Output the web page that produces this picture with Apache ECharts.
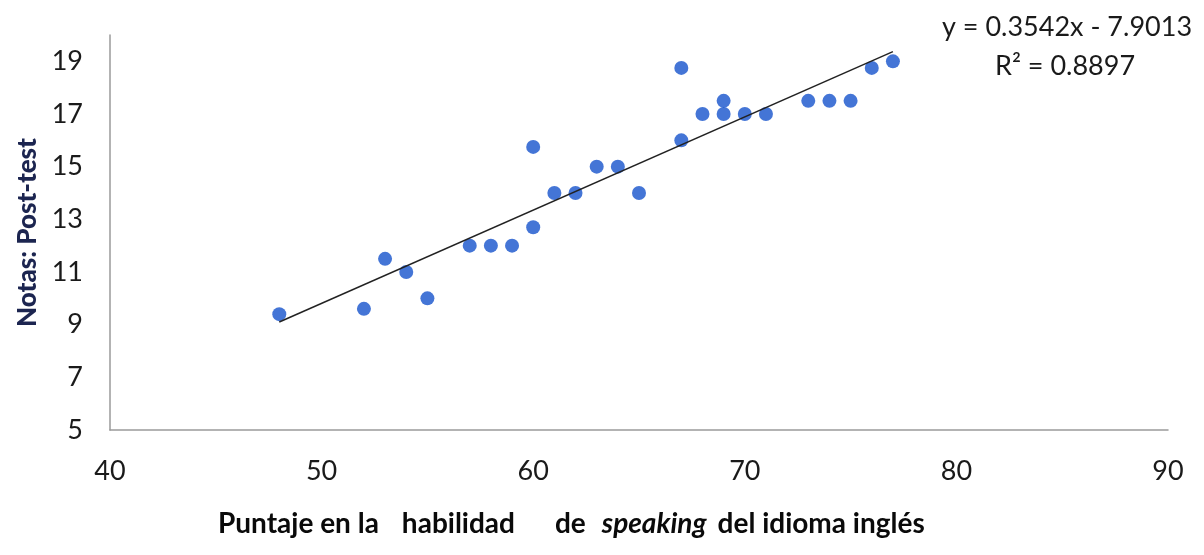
<!DOCTYPE html>
<html>
<head>
<meta charset="utf-8">
<script src="https://cdn.jsdelivr.net/npm/echarts@6/dist/echarts.min.js"></script>
<style>
html,body{margin:0;padding:0;background:#fff;}
#chart{width:1204px;height:555px;}
</style>
</head>
<body>
<div id="chart"></div>
<script>
// Data
var speakingScores = [48, 52, 53, 54, 55, 57, 58, 59, 60, 60, 61, 62, 63, 64, 65, 67, 67, 68, 69, 69, 70, 71, 73, 74, 75, 76, 77];
var postTestGrades = [9.4, 9.6, 11.5, 11, 10, 12, 12, 12, 12.7, 15.75, 14, 14, 15, 15, 14, 18.75, 16, 17, 17.5, 17, 17, 17, 17.5, 17.5, 17.5, 18.75, 19];
var trendX = [48, 77];
var trendY = [9.1, 19.37];
var xTickLabels = ['40', '50', '60', '70', '80', '90'];
var yTickLabels = ['5', '7', '9', '11', '13', '15', '17', '19'];
var equationText = 'y = 0.3542x - 7.9013';
var r2Text = 'R² = 0.8897';

var points = speakingScores.map(function (x, i) { return [x, postTestGrades[i]]; });
var trend = trendX.map(function (x, i) { return [x, trendY[i]]; });

var FONT = 'Lato, "Open Sans", sans-serif';
var base = { fontFamily: FONT, fontWeight: 'bold', fontSize: 28, color: '#0a0a0a' };
function rs(extra) { return Object.assign({}, base, extra || {}); }

var chart = echarts.init(document.getElementById('chart'));
chart.setOption({
  animation: false,
  backgroundColor: '#ffffff',
  grid: { left: 110, right: 36, top: 35, bottom: 125 },
  title: {
    text: '{b|Puntaje en la}{h|habilidad}{d|de}{i|speaking}{e|del idioma inglés}',
    left: 213, top: 505,
    textStyle: {
      rich: {
        b: rs(),
        h: rs({ padding: [0, 0, 0, 23] }),
        d: rs({ padding: [0, 0, 0, 40] }),
        i: rs({ fontStyle: 'italic', padding: [0, 0, 0, 16] }),
        e: rs({ padding: [0, 0, 0, 11] })
      }
    }
  },
  xAxis: {
    type: 'value', min: 40, max: 90, interval: 10,
    axisLine: { show: true, lineStyle: { color: '#9a9a9a', width: 1.5 } },
    axisTick: { show: false },
    splitLine: { show: false },
    axisLabel: {
      margin: 28, fontFamily: FONT, fontSize: 27, color: '#1a1a1a',
      formatter: function (v) { var s = String(v); return xTickLabels.indexOf(s) >= 0 ? s : ''; }
    }
  },
  yAxis: {
    type: 'value', min: 5, max: 20, interval: 2,
    name: 'Notas: Post-test', nameLocation: 'middle', nameRotate: 90, nameGap: 68,
    nameTextStyle: { fontFamily: FONT, fontWeight: 900, fontSize: 26, color: '#1c2550' },
    axisLine: { show: true, lineStyle: { color: '#9a9a9a', width: 1.5 } },
    axisTick: { show: false },
    splitLine: { show: false },
    axisLabel: {
      margin: 27, fontFamily: FONT, fontSize: 27, color: '#1a1a1a', showMaxLabel: false,
      formatter: function (v) { var s = String(v); return yTickLabels.indexOf(s) >= 0 ? s : ''; }
    }
  },
  graphic: [
    { type: 'text', left: 942, top: 14, style: { text: equationText, font: '27px ' + FONT, fill: '#1a1a1a' } },
    { type: 'text', left: 995, top: 53, style: { text: r2Text, font: '27px ' + FONT, fill: '#1a1a1a' } }
  ],
  series: [
    {
      type: 'line', data: trend, symbol: 'none', z: 3,
      lineStyle: { color: '#222', width: 1.5 }
    },
    {
      type: 'scatter', data: points, symbolSize: 14, z: 2,
      itemStyle: { color: '#1553cc' }
    }
  ]
});
</script>
</body>
</html>
